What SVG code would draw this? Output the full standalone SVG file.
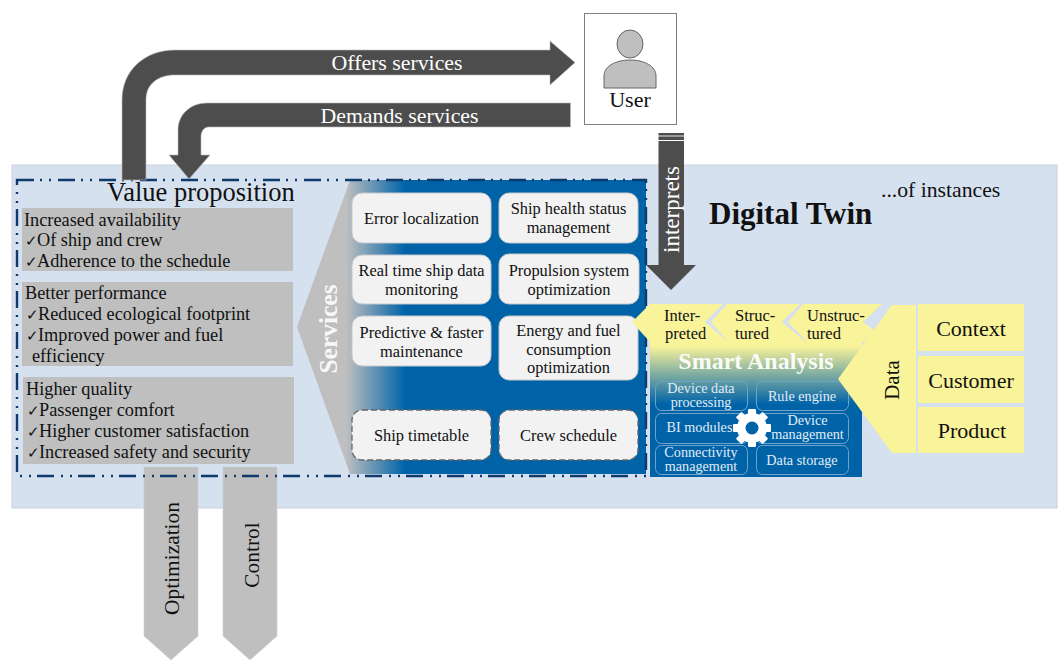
<svg xmlns="http://www.w3.org/2000/svg" width="1060" height="660" viewBox="0 0 1060 660">
<style>
text{font-family:"Liberation Serif","Times New Roman",serif;fill:#111}
.g{fill:#bfbfbf}
.t{font-size:18.3px}
.ck{font-size:15px}
.s{fill:#f2f2f2;stroke:#c4c8cc;stroke-width:1}
.d{fill:#f2f2f2;stroke:#666;stroke-width:1.3;stroke-dasharray:6 3}
.st{font-size:16.4px;text-anchor:middle}
.y{fill:#f9f39a}
.ib{fill:none;stroke:#6ea3cc;stroke-width:1}
.it{font-size:14.2px;text-anchor:middle;fill:#e0ecf6}
.ch{font-size:16.5px}
.w{fill:#fff}
.a{fill:#4d4d4d;stroke:#bbb;stroke-width:.6}
.big{font-size:22px;text-anchor:middle}
.v{font-size:21.4px;text-anchor:middle}
.lab{font-size:21.8px;text-anchor:middle;fill:#fff}
</style>
<defs>
<linearGradient id="svc" gradientUnits="userSpaceOnUse" x1="297" y1="0" x2="646" y2="0">
<stop offset="0.14" stop-color="#bfbfbf"/><stop offset="0.31" stop-color="#0063a8"/>
</linearGradient>
<linearGradient id="sa" gradientUnits="userSpaceOnUse" x1="0" y1="342" x2="0" y2="477">
<stop offset="0.03" stop-color="#f9f39a"/><stop offset="0.46" stop-color="#0063a8"/>
</linearGradient>
</defs>

<rect id="twin-bg" x="12" y="165" width="1045" height="343" fill="#d6e1f0" stroke="#cbd2da" stroke-width="1"/>

<g id="optimization"><path class="g" d="M144 467H198V636L171 660L144 636Z" stroke="#c8ccd0" stroke-width=".6"/><text class="v" transform="translate(179 558.500) rotate(-90)">Optimization</text></g>
<g id="control"><path class="g" d="M223 467H277V636L250 660L223 636Z" stroke="#c8ccd0" stroke-width=".6"/><text class="v" transform="translate(258.500 555) rotate(-90)">Control</text></g>

<g id="services"><path d="M350 180H646V474H350L297 327Z" fill="url(#svc)"/><text transform="translate(337 329) rotate(-90)" text-anchor="middle" font-size="25.500" font-weight="bold" style="fill:#fff;fill-opacity:.9">Services</text></g>

<g id="value-proposition">
<text x="107" y="201" font-size="26.500">Value proposition</text>
<g id="availability"><rect class="g" x="22" y="208" width="271" height="63"/><text class="t" x="24" y="226">Increased availability</text><text class="t" y="246"><tspan class="ck" x="25">✓</tspan><tspan x="37">Of ship and crew</tspan></text><text class="t" y="267"><tspan class="ck" x="25">✓</tspan><tspan x="37">Adherence to the schedule</tspan></text></g>
<g id="performance"><rect class="g" x="22" y="282" width="271" height="84"/><text class="t" x="25" y="299">Better performance</text><text class="t" y="320"><tspan class="ck" x="26">✓</tspan><tspan x="38">Reduced ecological footprint</tspan></text><text class="t" y="341"><tspan class="ck" x="26">✓</tspan><tspan x="38">Improved power and fuel</tspan></text><text class="t" x="32" y="362">efficiency</text></g>
<g id="quality"><rect class="g" x="23" y="377" width="271" height="87"/><text class="t" x="26" y="395">Higher quality</text><text class="t" y="416"><tspan class="ck" x="27">✓</tspan><tspan x="39">Passenger comfort</tspan></text><text class="t" y="437"><tspan class="ck" x="27">✓</tspan><tspan x="39">Higher customer satisfaction</tspan></text><text class="t" y="458"><tspan class="ck" x="27">✓</tspan><tspan x="39">Increased safety and security</tspan></text></g>
</g>

<g id="svc-error"><rect class="s" x="352" y="193" width="139" height="50" rx="10"/><text class="st" x="421.500" y="224">Error localization</text></g>
<g id="svc-health"><rect class="s" x="499" y="193" width="139" height="50" rx="10"/><text class="st" x="568.500" y="214">Ship health status</text><text class="st" x="568.500" y="233">management</text></g>
<g id="svc-realtime"><rect class="s" x="352" y="255" width="139" height="49" rx="10"/><text class="st" x="421.500" y="276">Real time ship data</text><text class="st" x="421.500" y="295">monitoring</text></g>
<g id="svc-propulsion"><rect class="s" x="499" y="254" width="140" height="50" rx="10"/><text class="st" x="569" y="276">Propulsion system</text><text class="st" x="569" y="295">optimization</text></g>
<g id="svc-predictive"><rect class="s" x="352" y="316" width="139" height="50" rx="10"/><text class="st" x="421.500" y="338">Predictive &amp; faster</text><text class="st" x="421.500" y="357">maintenance</text></g>
<g id="svc-energy"><rect class="s" x="499" y="316" width="139" height="64" rx="10"/><text class="st" x="568.500" y="336">Energy and fuel</text><text class="st" x="568.500" y="355">consumption</text><text class="st" x="568.500" y="373">optimization</text></g>
<g id="svc-timetable"><rect class="d" x="352" y="410" width="139" height="50" rx="10"/><text class="st" x="421.500" y="441">Ship timetable</text></g>
<g id="svc-crew"><rect class="d" x="499" y="410" width="139" height="50" rx="10"/><text class="st" x="568.500" y="441">Crew schedule</text></g>

<rect id="boundary" x="17" y="180" width="629" height="296" fill="none" stroke="#0f3a6e" stroke-width="2.400" stroke-dasharray="17 6 2 7 2 7"/>

<g id="smart-analysis">
<rect x="650" y="342" width="212" height="135" fill="url(#sa)"/>
<text x="756" y="369" text-anchor="middle" font-size="24" font-weight="bold" style="fill:#fff;fill-opacity:.95">Smart Analysis</text>
<g id="sa-device-data"><rect class="ib" x="655.500" y="381.500" width="92" height="29" rx="6"/><text class="it" x="701" y="393">Device data</text><text class="it" x="701" y="407">processing</text></g>
<g id="sa-rule"><rect class="ib" x="756.500" y="381.500" width="92" height="29" rx="6"/><text class="it" x="802" y="401">Rule engine</text></g>
<g id="sa-bi"><rect class="ib" x="655.500" y="413.500" width="92" height="30" rx="6"/><text class="it" x="699.500" y="432">BI modules</text></g>
<g id="sa-device-mgmt"><rect class="ib" x="756.500" y="413.500" width="92" height="30" rx="6"/><text class="it" x="807.500" y="425">Device</text><text class="it" x="807.500" y="439">management</text></g>
<g id="sa-connectivity"><rect class="ib" x="655.500" y="445.500" width="92" height="29" rx="6"/><text class="it" x="701" y="457">Connectivity</text><text class="it" x="701" y="471">management</text></g>
<g id="sa-storage"><rect class="ib" x="756.500" y="445.500" width="92" height="29" rx="6"/><text class="it" x="802" y="465">Data storage</text></g>
<g id="gear" transform="translate(752 428)"><g class="w"><rect x="-19" y="-4" width="38" height="8" rx="1"/><rect x="-19" y="-4" width="38" height="8" rx="1" transform="rotate(45)"/><rect x="-19" y="-4" width="38" height="8" rx="1" transform="rotate(90)"/><rect x="-19" y="-4" width="38" height="8" rx="1" transform="rotate(135)"/><circle r="15"/></g><circle r="6.500" fill="#0063a8"/></g>
</g>

<g id="interpreted"><path class="y" d="M650 304H723L705 322L728 342H650L632 322Z"/><text class="ch" x="664" y="321">Inter-</text><text class="ch" x="665" y="339">preted</text></g>
<g id="structured"><path class="y" d="M727 304H800L782 322L806 342H728L711 322Z"/><text class="ch" x="735" y="321">Struc-</text><text class="ch" x="735" y="339">tured</text></g>
<g id="unstructured"><path class="y" d="M803 304H882L863 322L875 331L864 342H807L788 322Z"/><text class="ch" x="807" y="321">Unstruc-</text><text class="ch" x="807" y="339">tured</text></g>
<g id="data"><path class="y" d="M892 305H916V453H892L838 379Z"/><text style="font-size:21px" text-anchor="middle" transform="translate(899 380) rotate(-90)">Data</text></g>
<g id="context"><rect class="y" x="918" y="304" width="106" height="47"/><text class="big" x="971" y="336">Context</text></g>
<g id="customer"><rect class="y" x="918" y="356" width="106" height="47"/><text class="big" x="971" y="388">Customer</text></g>
<g id="product"><rect class="y" x="918" y="407" width="106" height="46"/><text class="big" x="972" y="438">Product</text></g>

<g id="digital-twin"><text x="709" y="224" font-size="31" font-weight="bold">Digital Twin</text><text x="881" y="197" font-size="21.700">...of instances</text></g>

<g id="user"><rect x="584.500" y="13.500" width="92" height="111" fill="#fff" stroke="#7f7f7f" stroke-width="1"/><ellipse class="g" cx="630" cy="44" rx="13" ry="14" stroke="#666" stroke-width="1"/><path class="g" d="M604 88V76C604 66 616 60 630 60C644 60 656 66 656 76V88Z" stroke="#666" stroke-width="1"/><text x="630" y="107" text-anchor="middle" font-size="22">User</text></g>

<g id="connectors">
<g id="offers"><path class="a" d="M122 180V100C122 70 145 50 175 50H550V41L575 62.500L550 85V75H175C158 75 146 84 146 100V180Z"/><text class="lab" x="397" y="70">Offers services</text></g>
<g id="demands"><path class="a" d="M570.500 103H207C190 103 178 115 178 130V155H169L189 179L210 155H201V137C201 131 204 127 209 127H570.500Z"/><text class="lab" x="399.500" y="123">Demands services</text></g>
<g id="interprets"><path d="M658.500 141H684V265H696L671 290L646 265H658.500Z" fill="#4d4d4d"/><rect x="658.500" y="133" width="25.500" height="2" fill="#4d4d4d"/><rect x="658.500" y="135" width="25.500" height="2" fill="#999"/><rect x="658.500" y="137" width="25.500" height="3" fill="#4d4d4d"/><text class="lab" transform="translate(679 209.500) rotate(-90)" style="font-size:23px">interprets</text></g>
</g>
</svg>
